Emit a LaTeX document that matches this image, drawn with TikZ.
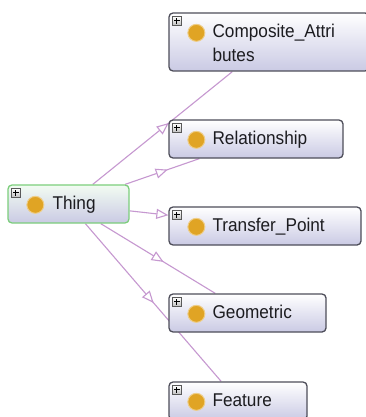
\documentclass[tikz,border=0pt]{standalone}
\usepackage{fontspec}
\newfontfamily\lblfont[FakeStretch=0.93]{Liberation Sans}
\usetikzlibrary{arrows.meta,decorations.markings,backgrounds,calc}
\definecolor{edgecol}{RGB}{198,152,208}
\definecolor{boxborder}{RGB}{78,78,90}
\definecolor{boxbottom}{RGB}{202,202,228}
\definecolor{thingborder}{RGB}{124,206,124}
\definecolor{thingtop}{RGB}{242,252,242}
\definecolor{dotcol}{RGB}{224,164,36}
\definecolor{txtcol}{RGB}{28,28,32}
\tikzset{
  cls/.style={draw=boxborder, line width=1.3pt, rounded corners=4pt, top color=white, bottom color=boxbottom, minimum height=38pt, inner sep=0pt},
  thingbox/.style={cls, draw=thingborder, top color=thingtop},
  edge/.style={draw=edgecol, line width=1.1pt},
  midarrow/.style={postaction={decorate}, decoration={markings, mark=at position #1 with {\arrow{Triangle[fill=white,length=12pt,width=10pt]}}}},
  lbl/.style={font=\lblfont\fontsize{18.5}{24}\selectfont, text=txtcol, inner sep=0pt, anchor=base west},
  dot/.style={circle, fill=dotcol, draw=dotcol!55!white, line width=1pt, minimum size=17pt, inner sep=0pt},
  plusbox/.style={draw=black!65, top color=white, bottom color=black!25, line width=0.7pt, minimum size=9pt, inner sep=0pt}
}
\newcommand\clsdeco[1]{%
  \node[plusbox] (#1-plus) at ($(#1.north west)+(8.5,8.5)$) {};
  \draw[line width=1pt, black] ($(#1-plus.center)+(-2.8,0)$) -- ($(#1-plus.center)+(2.8,0)$)
     ($(#1-plus.center)+(0,-2.8)$) -- ($(#1-plus.center)+(0,2.8)$);
  \node[dot] (#1-dot) at ($(#1.north west)+(28,20.5)$) {};
}
\begin{document}
\begin{tikzpicture}[x=1pt,y=-1pt]
\path[use as bounding box, clip] (0,0) rectangle (366,417);
% boxes
\node[cls, minimum width=200pt, minimum height=58pt] (comp) at (269,42) {};
\node[cls, minimum width=174pt] (rel) at (256,139) {};
\node[thingbox, minimum width=121pt] (thing) at (68.5,204) {};
\node[cls, minimum width=192pt] (tp) at (265,226) {};
\node[cls, minimum width=157pt] (geo) at (247.5,313) {};
\node[cls, minimum width=138pt] (feat) at (238,401) {};
% icons
\clsdeco{comp}
\clsdeco{rel}
\clsdeco{thing}
\clsdeco{tp}
\clsdeco{geo}
\clsdeco{feat}
% labels
\node[lbl] (comp-t1) at ($(comp.north west)+(44,25)$) {Composite\_Attri};
\node[lbl] (comp-t2) at ($(comp.north west)+(44,49)$) {butes};
\node[lbl] (rel-t) at ($(rel.north west)+(44,25.5)$) {Relationship};
\node[lbl] (thing-t) at ($(thing.north west)+(45,25.5)$) {Thing};
\node[lbl] (tp-t) at ($(tp.north west)+(44,25.5)$) {Transfer\_Point};
\node[lbl] (geo-t) at ($(geo.north west)+(44,25.5)$) {Geometric};
\node[lbl] (feat-t) at ($(feat.north west)+(44,25.5)$) {Feature};
% edges
\begin{pgfonlayer}{background}
\fill[white] (0,0) rectangle (366,417);
\draw[edge, midarrow=0.544] (thing) -- (comp);
\draw[edge, midarrow=0.574] (thing) -- (rel);
\draw[edge, -{Triangle[fill=white,length=12pt,width=10pt]}] (thing) -- (tp);
\draw[edge, midarrow=0.549] (thing) -- (geo);
\draw[edge, midarrow=0.503] (thing) -- (feat);
\end{pgfonlayer}
\end{tikzpicture}
\end{document}
